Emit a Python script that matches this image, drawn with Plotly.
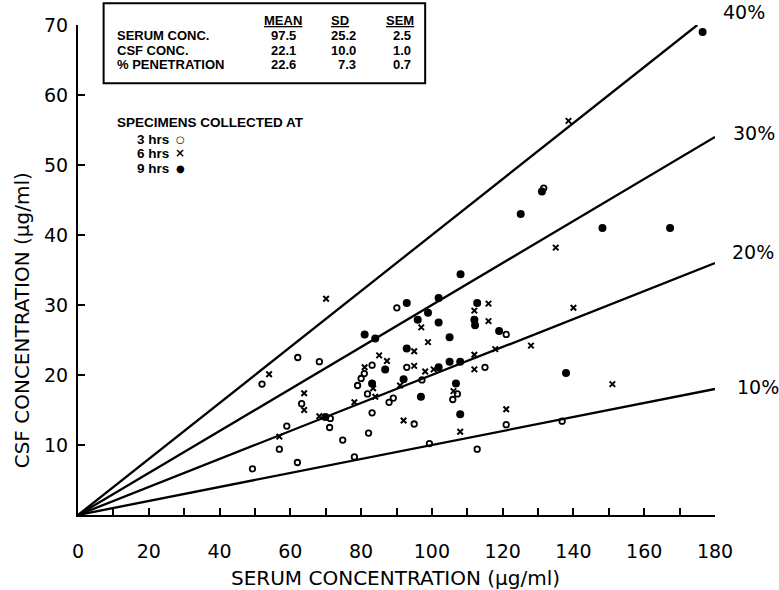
import plotly.graph_objects as go

# ---- data ----
x_3h = [90.1, 68.2, 62.1, 83.1, 92.9, 80.9, 80.0, 52.0, 79.0, 81.8, 89.1, 87.9, 63.2, 83.1, 71.3,
        59.0, 71.1, 82.1, 74.8, 56.9, 78.1, 62.0, 49.3, 97.2, 121.0, 115.0, 107.2, 105.9, 95.0,
        121.0, 99.3, 112.8, 131.6, 136.8]
y_3h = [29.6, 21.9, 22.5, 21.4, 21.1, 20.2, 19.5, 18.7, 18.5, 17.3, 16.7, 16.1, 15.9, 14.6, 13.8,
        12.7, 12.5, 11.7, 10.7, 9.4, 8.3, 7.5, 6.6, 19.3, 25.8, 21.1, 17.3, 16.5, 13.0,
        12.9, 10.2, 9.4, 46.7, 13.4]

x_6h = [70.1, 85.1, 87.3, 81.0, 54.0, 91.0, 83.4, 84.0, 63.9, 78.1, 63.9, 68.2, 92.0, 56.9, 116.0,
        112.0, 116.0, 97.0, 98.9, 128.0, 95.0, 117.9, 112.0, 95.0, 98.1, 100.5, 112.0, 106.1,
        121.0, 108.0, 135.0, 140.0, 151.0, 138.6]
y_6h = [30.9, 22.8, 22.0, 21.1, 20.1, 18.5, 18.1, 16.9, 17.4, 16.1, 15.0, 14.1, 13.5, 11.2, 30.2,
        29.2, 27.7, 26.8, 24.7, 24.2, 23.4, 23.7, 22.9, 21.3, 20.5, 20.8, 20.8, 17.7,
        15.1, 11.9, 38.2, 29.6, 18.7, 56.3]

x_9h = [92.9, 81.0, 84.0, 92.9, 86.8, 92.0, 83.1, 69.9, 101.9, 112.8, 96.0, 98.9, 101.9, 112.0,
        112.2, 119.0, 105.0, 108.0, 105.0, 101.9, 106.8, 96.9, 108.0, 131.1, 125.1, 148.2,
        167.3, 137.9, 108.1, 176.5]
y_9h = [30.3, 25.8, 25.2, 23.8, 20.8, 19.4, 18.8, 14.0, 31.0, 30.3, 27.9, 28.9, 27.5, 27.9,
        27.1, 26.3, 25.4, 21.9, 21.9, 21.1, 18.8, 16.9, 14.4, 46.2, 43.0, 41.0,
        41.0, 20.3, 34.4, 69.0]

penetration_pct = [10, 20, 30, 40]
pct_labels = ["10%", "20%", "30%", "40%"]

x_ticks = list(range(0, 181, 10))
x_ticktext = [str(v) if v % 20 == 0 else "" for v in x_ticks]
y_ticks = [10, 20, 30, 40, 50, 60, 70]

table_cols = ["MEAN", "SD", "SEM"]
table_rows = ["SERUM CONC.", "CSF CONC.", "% PENETRATION"]
table_mean = ["97.5", "22.1", "22.6"]
table_sd = ["25.2", "10.0", "7.3"]
table_sem = ["2.5", "1.0", "0.7"]

legend_title = "SPECIMENS COLLECTED AT"
legend_items = ["3 hrs", "6 hrs", "9 hrs"]
legend_syms = ["○", "×", "●"]

X_MAX, Y_MAX = 180, 70

fig = go.Figure()

# reference lines of % penetration
for p in penetration_pct:
    xe = min(X_MAX, Y_MAX / (p / 100.0))
    fig.add_trace(go.Scatter(x=[0, xe], y=[0, xe * p / 100.0], mode="lines",
                             line=dict(color="black", width=2.3), showlegend=False,
                             hoverinfo="skip"))

fig.add_trace(go.Scatter(x=x_3h, y=y_3h, mode="markers", name="3 hrs", showlegend=False,
                         marker=dict(symbol="circle-open", size=5.5, color="black",
                                     line=dict(width=1.8, color="black"))))
fig.add_trace(go.Scatter(x=x_6h, y=y_6h, mode="markers", name="6 hrs", showlegend=False,
                         marker=dict(symbol="x-thin-open", size=5.5, color="black",
                                     line=dict(width=2, color="black"))))
fig.add_trace(go.Scatter(x=x_9h, y=y_9h, mode="markers", name="9 hrs", showlegend=False,
                         marker=dict(symbol="circle", size=8, color="black")))

ann = []
tick_font = dict(family="DejaVu Sans", size=19, color="black")

# percentage labels
pct_pos = {10: (1.031, 0.261), 20: (1.024, 0.537), 30: (1.025, 0.780), 40: (1.009, 1.026)}
for p, lab in zip(penetration_pct, pct_labels):
    px, py = pct_pos[p]
    ann.append(dict(x=px, y=py, xref="paper", yref="paper", text=lab, showarrow=False,
                    xanchor="left", yanchor="middle",
                    font=dict(family="DejaVu Sans", size=19, color="black")))

# stats table
tfont = dict(family="Liberation Sans", size=13, color="black")
row_y = [0.9776, 0.9476, 0.9184]
head_y = 1.0102
head_x = [0.3551, 0.4284, 0.5309]
val_x = [0.3461, 0.4403, 0.5266]
for cx, c in zip(head_x, table_cols):
    ann.append(dict(x=cx, y=head_y, xref="paper", yref="paper", text="<b><u>%s</u></b>" % c,
                    showarrow=False, xanchor="right", yanchor="middle", font=tfont))
for ry, rname, m, s, e in zip(row_y, table_rows, table_mean, table_sd, table_sem):
    ann.append(dict(x=0.0585, y=ry, xref="paper", yref="paper", text="<b>%s</b>" % rname,
                    showarrow=False, xanchor="left", yanchor="middle", font=tfont))
    for vx, v in zip(val_x, [m, s, e]):
        ann.append(dict(x=vx, y=ry, xref="paper", yref="paper", text="<b>%s</b>" % v,
                        showarrow=False, xanchor="right", yanchor="middle", font=tfont))

# specimen legend
lfont = dict(family="Liberation Sans", size=13.5, color="black")
ann.append(dict(x=0.0585, y=0.8014, xref="paper", yref="paper", text="<b>%s</b>" % legend_title,
                showarrow=False, xanchor="left", yanchor="middle", font=lfont))
for ly, item, sym in zip([0.7667, 0.7382, 0.7076], legend_items, legend_syms):
    ann.append(dict(x=0.0899, y=ly, xref="paper", yref="paper", text="<b>%s</b>" % item,
                    showarrow=False, xanchor="left", yanchor="middle", font=lfont))
    ann.append(dict(x=0.1605, y=ly, xref="paper", yref="paper", text="<b>%s</b>" % sym,
                    showarrow=False, xanchor="center", yanchor="middle",
                    font=dict(family="DejaVu Sans", size=10 if sym != "×" else 12, color="black")))

# axis titles
ann.append(dict(x=0.498, y=-0.128, xref="paper", yref="paper",
                text="SERUM CONCENTRATION (μg/ml)", showarrow=False,
                xanchor="center", yanchor="middle",
                font=dict(family="DejaVu Sans", size=20, color="black")))
ann.append(dict(x=-0.0874, y=0.398, xref="paper", yref="paper",
                text="CSF CONCENTRATION (μg/ml)", showarrow=False, textangle=-90,
                xanchor="center", yanchor="middle",
                font=dict(family="DejaVu Sans", size=20, color="black")))

fig.update_layout(
    width=779, height=590,
    margin=dict(l=78, r=64, t=25, b=75),
    paper_bgcolor="white", plot_bgcolor="white",
    annotations=ann,
    shapes=[dict(type="rect", xref="paper", yref="paper", x0=0.0402, x1=0.545,
                 y0=0.881, y1=1.0443, line=dict(color="black", width=2))],
    xaxis=dict(range=[0, X_MAX], tickvals=x_ticks, ticktext=x_ticktext, ticks="inside",
               ticklen=7, tickwidth=1.5, tickcolor="black", showline=True, linecolor="black",
               linewidth=2, showgrid=False, zeroline=False, tickfont=tick_font,
               ticklabelstandoff=18, automargin=False),
    yaxis=dict(range=[0, Y_MAX], tickvals=y_ticks, ticks="inside", ticklen=7, tickwidth=1.5,
               tickcolor="black", showline=True, linecolor="black", linewidth=2,
               showgrid=False, zeroline=False, tickfont=tick_font, ticklabelstandoff=4,
               automargin=False),
)

# remove the browser's default body margin so the figure fills the window exactly
fig.write_html("out.html", config={"displayModeBar": False},
               post_script="document.body.style.margin='0';document.body.style.overflow='hidden';")
